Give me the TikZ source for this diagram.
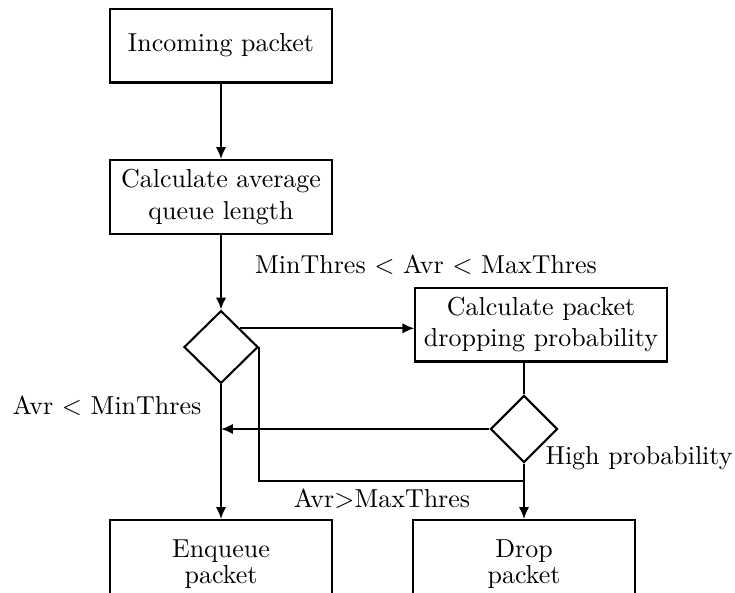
\documentclass[tikz,border=0pt]{standalone}
\usetikzlibrary{shapes.geometric, arrows.meta}
\begin{document}
\begin{tikzpicture}[x=0.385pt, y=-0.385pt,
  box/.style={draw, thick, rectangle, align=center, minimum width=3cm, minimum height=1cm},
  decision/.style={draw, thick, diamond, inner sep=0pt},
  flow/.style={thick, -{Latex[length=4.6pt, width=4pt]}},
  link/.style={thick},
  tag/.style={inner sep=0pt}]
\useasboundingbox (0,0) rectangle (735,592);
\clip (0,0) rectangle (735,592);

% process boxes
\node[box] (incoming) at (221,45.5) {Incoming packet};
\node[box] (avgq) at (221,197) {Calculate average\\queue length};
\node[box] (prob) at (541,324.5) {Calculate packet\\dropping probability};
\node[box, anchor=north, minimum height=34pt] (enq) at (221,519) {Enqueue\\[-2pt]packet};
\node[box, anchor=north, minimum height=34pt] (drop) at (524,519) {Drop\\[-2pt]packet};

% decisions
\node[decision, minimum width=28.5pt, minimum height=28pt] (d1) at (221,347) {};
\node[decision, minimum width=25.8pt, minimum height=25.8pt] (d2) at (524,429) {};

% joint where the "too long" branch meets the drop line
\coordinate (join) at (524,481);

% connectors
\draw[flow] (incoming) -- (avgq);
\draw[flow] (avgq) -- (d1.north);
\draw[flow] (d1.north east) -- (d1.north east -| prob.west);
\draw[link] (d2.north |- prob.south) -- (d2.north);
\draw[flow] (d2.west) -- (d2.west -| d1.south);
\draw[flow] (d1.south) -- (enq.north);
\draw[flow] (d2.south) -- (drop.north);
\draw[link] (d1.east) |- (join);

% branch labels
\node[tag] (lmid) at (426,265) {MinThres $<$ Avr $<$ MaxThres};
\node[tag] (llow) at (107,406) {Avr $<$ MinThres};
\node[tag, anchor=west] (lhigh) at (545,458) {High probability};
\node[tag] (lmax) at (382,499) {Avr$>$MaxThres};
\end{tikzpicture}
\end{document}
